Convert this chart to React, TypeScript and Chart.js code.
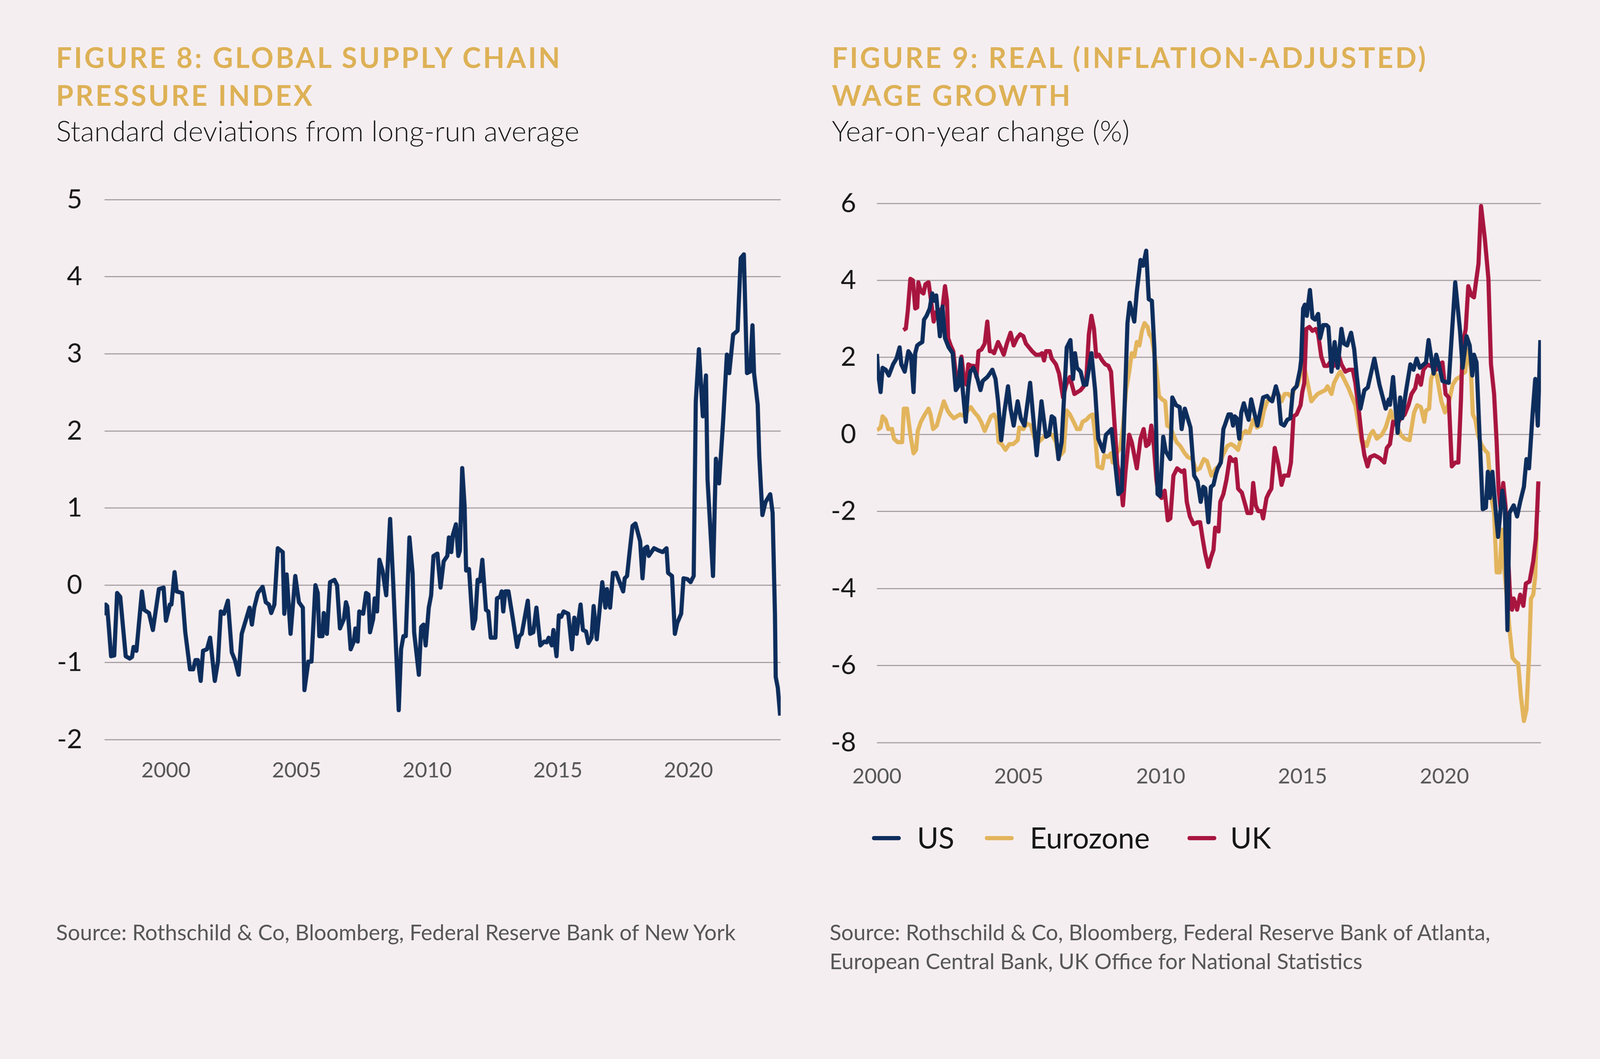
import React, { useEffect, useRef } from "react";
import { Chart, registerables } from "chart.js";

Chart.register(...registerables);

// ---------- DATA ----------
// Figure 8: Global Supply Chain Pressure Index, [decimal year, std devs]
const gscpiSeries: [number, number][] = [
  [1997.65, -0.39], [1997.69, -0.25], [1997.75, -0.27], [1997.9, -0.92], [1998.02, -0.91], [1998.13, -0.1],
  [1998.25, -0.15], [1998.46, -0.92], [1998.61, -0.95], [1998.7, -0.93], [1998.76, -0.8], [1998.87, -0.85],
  [1999.08, -0.08], [1999.17, -0.32], [1999.35, -0.36], [1999.5, -0.58], [1999.73, -0.05], [1999.91, -0.03],
  [2000.0, -0.46], [2000.15, -0.25], [2000.21, -0.25], [2000.33, 0.17], [2000.41, -0.08], [2000.62, -0.1],
  [2000.74, -0.61], [2000.92, -1.09], [2001.04, -1.09], [2001.13, -0.97], [2001.22, -0.97], [2001.33, -1.24],
  [2001.42, -0.85], [2001.57, -0.83], [2001.69, -0.68], [2001.87, -1.24], [2001.99, -0.99], [2002.1, -0.34],
  [2002.22, -0.37], [2002.37, -0.2], [2002.52, -0.87], [2002.64, -0.97], [2002.78, -1.16], [2002.9, -0.63],
  [2003.05, -0.46], [2003.2, -0.29], [2003.29, -0.51], [2003.38, -0.29], [2003.52, -0.1], [2003.7, -0.02],
  [2003.82, -0.22], [2003.94, -0.25], [2004.03, -0.36], [2004.15, -0.25], [2004.28, 0.48], [2004.47, 0.43],
  [2004.53, -0.37], [2004.62, 0.14], [2004.77, -0.63], [2004.95, 0.12], [2005.09, -0.22], [2005.24, -0.29],
  [2005.3, -1.36], [2005.45, -0.99], [2005.57, -0.99], [2005.72, 0.0], [2005.81, -0.1], [2005.87, -0.66],
  [2005.99, -0.66], [2006.04, -0.36], [2006.16, -0.63], [2006.28, 0.04], [2006.45, 0.07], [2006.55, 0.0],
  [2006.66, -0.56], [2006.81, -0.44], [2006.89, -0.22], [2006.95, -0.29], [2007.07, -0.83], [2007.19, -0.73],
  [2007.25, -0.56], [2007.34, -0.73], [2007.4, -0.34], [2007.55, -0.37], [2007.66, -0.1], [2007.75, -0.12],
  [2007.81, -0.61], [2007.93, -0.44], [2007.99, -0.17], [2008.08, -0.34], [2008.17, 0.33], [2008.29, 0.19],
  [2008.43, -0.13], [2008.58, 0.86], [2008.7, 0.02], [2008.91, -1.62], [2009.0, -0.83], [2009.09, -0.66],
  [2009.18, -0.66], [2009.32, 0.62], [2009.44, 0.16], [2009.5, -0.61], [2009.68, -1.16], [2009.77, -0.54],
  [2009.86, -0.51], [2009.94, -0.78], [2010.06, -0.29], [2010.15, -0.13], [2010.24, 0.38], [2010.39, 0.41],
  [2010.51, -0.03], [2010.63, 0.31], [2010.77, 0.38], [2010.83, 0.62], [2010.92, 0.43], [2010.98, 0.65],
  [2011.1, 0.79], [2011.19, 0.38], [2011.25, 0.45], [2011.34, 1.52], [2011.43, 1.03], [2011.49, 0.19],
  [2011.6, 0.21], [2011.75, -0.56], [2011.84, -0.44], [2011.93, 0.07], [2012.02, 0.05], [2012.11, 0.33],
  [2012.25, -0.32], [2012.34, -0.34], [2012.43, -0.68], [2012.61, -0.68], [2012.67, -0.17], [2012.79, -0.15],
  [2012.85, -0.08], [2012.91, -0.34], [2012.99, -0.08], [2013.11, -0.08], [2013.29, -0.46], [2013.44, -0.8],
  [2013.53, -0.66], [2013.62, -0.63], [2013.85, -0.2], [2013.94, -0.63], [2014.06, -0.61], [2014.18, -0.29],
  [2014.33, -0.78], [2014.48, -0.73], [2014.57, -0.74], [2014.65, -0.68], [2014.77, -0.78], [2014.83, -0.58],
  [2014.95, -0.92], [2015.04, -0.39], [2015.13, -0.41], [2015.22, -0.34], [2015.4, -0.37], [2015.54, -0.83],
  [2015.63, -0.42], [2015.72, -0.63], [2015.87, -0.25], [2015.96, -0.58], [2016.08, -0.6], [2016.17, -0.75],
  [2016.29, -0.68], [2016.37, -0.27], [2016.49, -0.7], [2016.7, 0.04], [2016.82, -0.29], [2016.88, -0.05],
  [2017.0, -0.29], [2017.11, 0.16], [2017.23, 0.16], [2017.5, -0.08], [2017.56, 0.09], [2017.65, 0.12],
  [2017.74, 0.41], [2017.86, 0.77], [2017.97, 0.8], [2018.15, 0.57], [2018.24, 0.09], [2018.33, 0.48],
  [2018.42, 0.5], [2018.48, 0.38], [2018.68, 0.48], [2018.86, 0.45], [2019.01, 0.43], [2019.16, 0.48],
  [2019.22, 0.16], [2019.37, 0.12], [2019.48, -0.63], [2019.57, -0.49], [2019.72, -0.37], [2019.81, 0.09],
  [2019.96, 0.08], [2020.08, 0.04], [2020.2, 0.12], [2020.28, 2.38], [2020.4, 3.06], [2020.55, 2.19],
  [2020.67, 2.72], [2020.73, 1.37], [2020.94, 0.12], [2021.05, 1.64], [2021.17, 1.32], [2021.32, 2.09],
  [2021.47, 2.99], [2021.56, 2.75], [2021.71, 3.25], [2021.88, 3.3], [2022.0, 4.24], [2022.12, 4.29],
  [2022.24, 2.75], [2022.36, 2.77], [2022.45, 3.37], [2022.51, 2.75], [2022.65, 2.34], [2022.71, 1.68],
  [2022.83, 0.91], [2022.95, 1.08], [2023.13, 1.18], [2023.22, 0.94], [2023.31, -0.37], [2023.34, -1.19],
  [2023.42, -1.33], [2023.51, -1.69],
];

// Figure 9: Real wage growth, [decimal year, % y/y]
const usSeries: [number, number][] = [
  [2000.0, 2.09], [2000.04, 1.63], [2000.13, 1.1], [2000.2, 1.73], [2000.31, 1.68], [2000.42, 1.53],
  [2000.57, 1.82], [2000.69, 1.97], [2000.8, 2.26], [2000.86, 1.82], [2000.98, 1.63], [2001.11, 2.16],
  [2001.2, 2.06], [2001.29, 1.1], [2001.35, 2.11], [2001.42, 2.31], [2001.51, 2.36], [2001.6, 2.4],
  [2001.66, 2.98], [2001.75, 3.08], [2001.86, 3.27], [2001.95, 3.66], [2002.02, 3.47], [2002.09, 3.61],
  [2002.22, 2.55], [2002.31, 3.32], [2002.4, 2.5], [2002.53, 2.26], [2002.67, 2.11], [2002.78, 1.15],
  [2002.87, 1.25], [2002.96, 1.97], [2003.02, 1.2], [2003.13, 0.33], [2003.22, 1.25], [2003.29, 1.63],
  [2003.4, 1.73], [2003.51, 1.53], [2003.65, 1.15], [2003.73, 1.39], [2003.89, 1.49], [2003.98, 1.58],
  [2004.07, 1.68], [2004.18, 1.44], [2004.27, 0.86], [2004.38, -0.15], [2004.49, 0.57], [2004.62, 1.25],
  [2004.71, 0.67], [2004.82, 0.23], [2004.96, 0.86], [2005.07, 0.42], [2005.2, 0.23], [2005.4, 1.34],
  [2005.63, -0.54], [2005.8, 0.86], [2005.96, -0.06], [2006.07, -0.01], [2006.16, 0.47], [2006.25, 0.42],
  [2006.4, -0.64], [2006.51, -0.2], [2006.69, 2.26], [2006.82, 2.45], [2006.91, 1.44], [2006.98, 2.11],
  [2007.05, 1.73], [2007.18, 1.63], [2007.29, 1.29], [2007.38, 1.29], [2007.56, 2.11], [2007.69, 1.15],
  [2007.8, -0.11], [2007.98, -0.44], [2008.07, -0.01], [2008.27, 0.14], [2008.4, -0.78], [2008.51, -1.55],
  [2008.63, -1.46], [2008.71, 0.28], [2008.83, 2.89], [2008.91, 3.42], [2009.07, 2.93], [2009.16, 3.71],
  [2009.29, 4.53], [2009.38, 4.38], [2009.49, 4.77], [2009.58, 3.51], [2009.69, 3.47], [2009.78, 2.21],
  [2009.89, -1.55], [2009.98, -1.6], [2010.09, -0.06], [2010.18, -0.44], [2010.34, -0.64], [2010.41, 0.96],
  [2010.54, 0.76], [2010.67, 0.71], [2010.74, 0.14], [2010.85, 0.67], [2011.05, 0.18], [2011.18, -1.07],
  [2011.3, -1.22], [2011.41, -1.75], [2011.5, -1.36], [2011.57, -1.4], [2011.68, -2.28], [2011.77, -1.36],
  [2011.86, -1.31], [2011.95, -1.02], [2012.01, -0.88], [2012.12, -0.73], [2012.21, 0.14], [2012.28, 0.28],
  [2012.39, 0.52], [2012.48, 0.52], [2012.55, 0.23], [2012.61, 0.47], [2012.68, 0.42], [2012.77, -0.11],
  [2012.84, 0.57], [2012.93, 0.81], [2013.04, 0.52], [2013.1, 0.38], [2013.19, 0.91], [2013.28, 0.62],
  [2013.41, 0.23], [2013.53, 0.67], [2013.61, 0.96], [2013.75, 1.0], [2013.84, 0.91], [2013.93, 0.86],
  [2014.06, 1.25], [2014.15, 1.0], [2014.24, 0.28], [2014.35, 0.23], [2014.46, 0.38], [2014.57, 0.42],
  [2014.66, 1.15], [2014.79, 1.25], [2014.91, 1.68], [2014.95, 1.92], [2015.02, 3.27], [2015.08, 3.37],
  [2015.15, 3.08], [2015.26, 3.75], [2015.35, 3.03], [2015.44, 2.98], [2015.55, 3.13], [2015.62, 2.5],
  [2015.73, 2.84], [2015.84, 2.84], [2015.91, 2.79], [2016.02, 1.63], [2016.13, 2.4], [2016.24, 1.73],
  [2016.37, 2.74], [2016.46, 2.36], [2016.57, 2.31], [2016.71, 2.64], [2016.82, 2.21], [2016.91, 1.53],
  [2017.04, 0.67], [2017.18, 1.15], [2017.3, 1.22], [2017.53, 1.97], [2017.71, 1.29], [2017.93, 0.67],
  [2018.04, 0.91], [2018.08, 0.77], [2018.19, 1.49], [2018.35, 0.04], [2018.44, 0.96], [2018.51, 0.42],
  [2018.64, 1.1], [2018.8, 1.82], [2018.91, 1.68], [2019.02, 1.97], [2019.13, 1.73], [2019.35, 1.87],
  [2019.44, 2.45], [2019.53, 2.02], [2019.62, 1.58], [2019.71, 2.07], [2019.8, 1.82], [2019.93, 1.39],
  [2020.15, 1.34], [2020.38, 3.95], [2020.55, 2.69], [2020.64, 1.73], [2020.78, 2.55], [2020.89, 2.31],
  [2020.98, 1.53], [2021.04, 2.07], [2021.13, 1.87], [2021.22, 0.28], [2021.35, -1.94], [2021.46, -1.9],
  [2021.53, -0.97], [2021.6, -1.65], [2021.69, -0.97], [2021.8, -1.94], [2021.89, -2.66], [2022.04, -1.46],
  [2022.13, -1.94], [2022.22, -5.08], [2022.29, -2.04], [2022.44, -1.84], [2022.56, -2.13], [2022.67, -1.75],
  [2022.8, -1.36], [2022.89, -0.64], [2022.98, -0.88], [2023.11, 0.57], [2023.2, 1.44], [2023.29, 0.23],
  [2023.38, 2.45],
];

const eurozoneSeries: [number, number][] = [
  [2000.0, 0.11], [2000.13, 0.18], [2000.2, 0.47], [2000.31, 0.38], [2000.4, 0.14], [2000.53, 0.14],
  [2000.6, -0.11], [2000.73, -0.2], [2000.89, -0.2], [2000.95, 0.67], [2001.06, 0.67], [2001.18, -0.01],
  [2001.29, -0.49], [2001.38, -0.4], [2001.44, 0.09], [2001.55, 0.33], [2001.69, 0.52], [2001.82, 0.67],
  [2001.89, 0.52], [2001.98, 0.14], [2002.11, 0.23], [2002.22, 0.52], [2002.36, 0.86], [2002.49, 0.62],
  [2002.58, 0.52], [2002.71, 0.42], [2002.82, 0.47], [2002.93, 0.52], [2003.09, 0.47], [2003.2, 0.62],
  [2003.31, 0.71], [2003.44, 0.57], [2003.56, 0.47], [2003.67, 0.33], [2003.8, 0.09], [2003.91, 0.28],
  [2004.02, 0.47], [2004.13, 0.52], [2004.22, 0.38], [2004.29, -0.2], [2004.4, -0.25], [2004.53, -0.4],
  [2004.67, -0.25], [2004.8, -0.25], [2004.96, -0.15], [2005.02, 0.18], [2005.16, 0.14], [2005.29, 0.28],
  [2005.43, 0.23], [2005.56, -0.11], [2005.69, -0.2], [2005.82, -0.11], [2005.96, -0.01], [2006.18, -0.01],
  [2006.31, -0.2], [2006.4, -0.59], [2006.58, -0.44], [2006.69, 0.62], [2006.8, 0.52], [2006.93, 0.33],
  [2007.05, 0.14], [2007.16, 0.14], [2007.25, 0.33], [2007.38, 0.38], [2007.49, 0.47], [2007.6, 0.52],
  [2007.69, -0.01], [2007.78, -0.83], [2007.94, -0.88], [2008.02, -0.54], [2008.14, -0.59], [2008.25, -0.49],
  [2008.31, -0.73], [2008.45, -0.49], [2008.58, -0.35], [2008.67, 0.18], [2008.78, 1.15], [2008.89, 1.63],
  [2008.98, 2.11], [2009.07, 2.02], [2009.16, 2.4], [2009.25, 2.31], [2009.34, 2.69], [2009.43, 2.89],
  [2009.54, 2.79], [2009.6, 2.6], [2009.69, 2.5], [2009.83, 1.82], [2009.94, 1.0], [2010.05, 0.91],
  [2010.16, 0.86], [2010.23, 0.23], [2010.34, 0.18], [2010.45, -0.01], [2010.56, -0.2], [2010.69, -0.3],
  [2010.85, -0.49], [2010.96, -0.59], [2011.12, -0.64], [2011.25, -0.93], [2011.38, -0.88], [2011.52, -0.64],
  [2011.63, -0.69], [2011.79, -1.07], [2011.95, -0.88], [2012.06, -0.83], [2012.19, -0.54], [2012.35, -0.3],
  [2012.48, -0.25], [2012.59, -0.3], [2012.73, -0.4], [2012.86, -0.01], [2012.99, 0.09], [2013.12, 0.04],
  [2013.26, 0.38], [2013.39, 0.18], [2013.53, 0.23], [2013.64, 0.62], [2013.75, 0.86], [2013.88, 0.91],
  [2014.02, 1.05], [2014.15, 1.05], [2014.26, 0.86], [2014.37, 1.05], [2014.5, 1.05], [2014.62, 0.96],
  [2014.71, 1.2], [2014.84, 1.29], [2014.95, 1.63], [2015.04, 1.82], [2015.15, 1.44], [2015.31, 0.86],
  [2015.42, 0.96], [2015.53, 1.05], [2015.66, 1.1], [2015.8, 1.15], [2015.88, 1.25], [2016.02, 1.05],
  [2016.11, 1.34], [2016.24, 1.53], [2016.33, 1.63], [2016.46, 1.44], [2016.62, 1.2], [2016.73, 1.0],
  [2016.86, 0.76], [2016.98, 0.23], [2017.09, -0.2], [2017.18, -0.2], [2017.26, -0.3], [2017.38, -0.01],
  [2017.48, 0.09], [2017.62, -0.11], [2017.79, -0.01], [2017.93, 0.18], [2018.11, 0.62], [2018.19, 0.38],
  [2018.33, 0.23], [2018.46, -0.01], [2018.6, -0.11], [2018.77, -0.15], [2018.93, 0.57], [2019.04, 0.76],
  [2019.17, 0.71], [2019.29, 0.33], [2019.35, 0.62], [2019.46, 0.67], [2019.53, 1.44], [2019.62, 1.63],
  [2019.73, 1.53], [2019.89, 0.86], [2020.02, 0.57], [2020.15, 0.81], [2020.29, 1.29], [2020.42, 1.44],
  [2020.55, 1.49], [2020.64, 1.58], [2020.73, 1.62], [2020.82, 2.21], [2020.93, 1.73], [2021.0, 0.52],
  [2021.09, 0.38], [2021.18, -0.01], [2021.29, -0.25], [2021.42, -0.4], [2021.53, -0.49], [2021.67, -1.7],
  [2021.75, -2.04], [2021.84, -3.58], [2021.95, -3.58], [2022.02, -2.47], [2022.11, -3.48], [2022.2, -4.26],
  [2022.29, -5.03], [2022.4, -5.8], [2022.51, -5.9], [2022.6, -5.95], [2022.69, -6.77], [2022.8, -7.44],
  [2022.89, -7.15], [2022.98, -5.8], [2023.05, -4.26], [2023.13, -4.16], [2023.2, -3.68], [2023.25, -2.52],
];

const ukSeries: [number, number][] = [
  [2000.93, 2.71], [2001.02, 2.75], [2001.09, 3.22], [2001.18, 4.04], [2001.27, 4.0], [2001.35, 3.27],
  [2001.42, 3.3], [2001.46, 3.95], [2001.55, 3.71], [2001.64, 3.66], [2001.71, 3.9], [2001.82, 3.95],
  [2001.91, 3.47], [2002.0, 2.93], [2002.09, 3.18], [2002.2, 3.22], [2002.31, 3.27], [2002.4, 3.85],
  [2002.47, 3.47], [2002.51, 2.5], [2002.6, 2.31], [2002.69, 2.16], [2002.8, 1.44], [2002.91, 1.44],
  [2002.98, 2.02], [2003.07, 1.44], [2003.16, 1.29], [2003.22, 1.82], [2003.33, 1.78], [2003.42, 1.78],
  [2003.51, 1.49], [2003.58, 2.16], [2003.69, 2.21], [2003.8, 2.36], [2003.89, 2.93], [2003.98, 2.16],
  [2004.05, 2.16], [2004.13, 2.11], [2004.27, 2.4], [2004.36, 2.26], [2004.47, 2.07], [2004.58, 2.36],
  [2004.71, 2.64], [2004.82, 2.31], [2004.94, 2.5], [2005.05, 2.6], [2005.16, 2.55], [2005.25, 2.36],
  [2005.36, 2.26], [2005.47, 2.16], [2005.6, 2.07], [2005.73, 2.07], [2005.82, 2.11], [2005.89, 1.92],
  [2005.96, 2.16], [2006.09, 2.16], [2006.16, 1.97], [2006.31, 1.82], [2006.42, 1.58], [2006.56, 0.96],
  [2006.67, 1.29], [2006.8, 1.49], [2006.96, 1.05], [2007.07, 1.1], [2007.18, 1.15], [2007.29, 1.25],
  [2007.38, 1.44], [2007.47, 2.6], [2007.56, 3.08], [2007.65, 2.74], [2007.73, 2.02], [2007.82, 2.07],
  [2007.94, 1.92], [2008.05, 1.82], [2008.16, 1.78], [2008.25, 1.63], [2008.36, 0.42], [2008.47, -0.78],
  [2008.58, -1.17], [2008.67, -1.84], [2008.76, -0.97], [2008.89, -0.01], [2008.98, -0.2], [2009.16, -0.88],
  [2009.29, -0.11], [2009.4, 0.14], [2009.49, -0.3], [2009.58, -0.25], [2009.67, 0.23], [2009.76, -0.3],
  [2009.85, -1.17], [2009.92, -1.55], [2010.03, -1.65], [2010.14, -1.46], [2010.25, -2.23], [2010.34, -2.18],
  [2010.45, -1.07], [2010.58, -0.88], [2010.74, -0.97], [2010.83, -0.93], [2010.92, -1.75], [2011.03, -2.13],
  [2011.16, -2.33], [2011.3, -2.28], [2011.39, -2.28], [2011.48, -2.71], [2011.57, -3.1], [2011.68, -3.44],
  [2011.77, -3.2], [2011.86, -3.0], [2011.92, -2.42], [2012.04, -2.52], [2012.1, -1.75], [2012.21, -1.55],
  [2012.32, -1.17], [2012.44, -0.59], [2012.55, -0.69], [2012.64, -0.64], [2012.73, -1.41], [2012.86, -1.51],
  [2012.97, -1.8], [2013.06, -2.04], [2013.19, -2.04], [2013.26, -1.26], [2013.35, -1.84], [2013.44, -1.99],
  [2013.55, -1.99], [2013.61, -2.18], [2013.73, -1.65], [2013.82, -1.51], [2013.9, -1.41], [2014.02, -0.35],
  [2014.15, -0.78], [2014.26, -1.31], [2014.35, -1.07], [2014.5, -1.07], [2014.59, -0.73], [2014.68, 0.47],
  [2014.79, 0.52], [2014.93, 0.76], [2014.99, 1.1], [2015.06, 1.34], [2015.13, 2.74], [2015.24, 2.79],
  [2015.35, 2.69], [2015.46, 2.74], [2015.55, 2.6], [2015.66, 2.02], [2015.77, 1.78], [2015.88, 1.78],
  [2015.97, 1.87], [2016.11, 1.78], [2016.2, 1.97], [2016.29, 2.02], [2016.37, 1.82], [2016.51, 1.63],
  [2016.64, 1.68], [2016.77, 1.68], [2016.86, 1.34], [2016.99, 0.57], [2017.09, -0.11], [2017.18, -0.54],
  [2017.29, -0.83], [2017.38, -0.59], [2017.53, -0.54], [2017.71, -0.61], [2017.88, -0.73], [2017.97, -0.35],
  [2018.08, -0.25], [2018.19, 0.33], [2018.33, 0.23], [2018.42, 0.38], [2018.6, 0.52], [2018.73, 0.76],
  [2018.84, 1.05], [2018.97, 1.2], [2019.06, 1.53], [2019.17, 1.29], [2019.26, 1.68], [2019.4, 1.82],
  [2019.49, 1.78], [2019.58, 1.82], [2019.71, 1.68], [2019.84, 1.82], [2019.93, 1.87], [2020.04, 1.05],
  [2020.15, 0.96], [2020.26, -0.83], [2020.38, -0.73], [2020.49, -0.73], [2020.58, 0.86], [2020.64, 2.31],
  [2020.75, 2.74], [2020.84, 3.85], [2020.95, 3.61], [2021.04, 3.56], [2021.11, 3.95], [2021.2, 4.43],
  [2021.29, 5.93], [2021.42, 5.11], [2021.55, 4.04], [2021.64, 1.82], [2021.75, 1.05], [2021.84, -0.2],
  [2021.91, -1.46], [2021.98, -1.94], [2022.07, -1.26], [2022.15, -1.84], [2022.24, -3.1], [2022.31, -4.16],
  [2022.38, -4.55], [2022.44, -4.26], [2022.56, -4.55], [2022.67, -4.16], [2022.78, -4.45], [2022.87, -3.87],
  [2023.0, -3.82], [2023.13, -3.29], [2023.22, -2.71], [2023.27, -1.94], [2023.31, -1.22],
];

const leftYearTicks = [2000, 2005, 2010, 2015, 2020];
const rightYearTicks = [2000, 2005, 2010, 2015, 2020];
const seriesNames = ["US", "Eurozone", "UK"];

// ---------- STYLE ----------
const DESIGN_W = 4224;
const DESIGN_H = 2712;
const FONT = "Lato, 'Noto Sans', sans-serif";
const BG = "#F5EEF0";
const GOLD_TITLE = "#DDB156";
const NAVY = "#0D2D5C";
const GOLD = "#E2B45C";
const CRIMSON = "#A8153F";
const GRID = "#A6A0A3";
const seriesColors = [NAVY, GOLD, CRIMSON];

const toPoints = (s: [number, number][]) => s.map(([x, y]) => ({ x, y }));

function yScale(min: number, max: number, step: number, pad: number, width: number) {
  return {
    type: "linear" as const,
    min,
    max,
    ticks: {
      stepSize: step,
      padding: pad,
      color: "#161616",
      font: { family: FONT, size: 70, weight: "normal" as const },
      callback: (v: any) => String(v),
    },
    grid: { color: GRID, lineWidth: 3, drawTicks: false },
    border: { display: false },
    afterFit: (s: any) => {
      s.width = width;
    },
  };
}

function xScale(min: number, max: number, ticks: number[], pad: number) {
  return {
    type: "linear" as const,
    min,
    max,
    afterBuildTicks: (s: any) => {
      s.ticks = ticks.map((v) => ({ value: v }));
    },
    ticks: {
      padding: pad,
      color: "#555555",
      autoSkip: false,
      maxRotation: 0,
      font: { family: FONT, size: 56, weight: "normal" as const },
      callback: (v: any) => String(v),
    },
    grid: { display: false, drawTicks: false },
    border: { display: false },
    afterFit: (s: any) => {
      s.height = 130;
    },
  };
}

function lineDs(label: string, data: any[], color: string) {
  return {
    label,
    data,
    borderColor: color,
    backgroundColor: color,
    borderWidth: 11,
    pointRadius: 0,
    pointHoverRadius: 0,
    tension: 0,
    fill: false,
    borderJoinStyle: "round" as const,
    borderCapStyle: "butt" as const,
  };
}

function ChartCanvas(props: { left: number; top: number; width: number; height: number; make: () => any }) {
  const ref = useRef<HTMLCanvasElement | null>(null);
  useEffect(() => {
    if (!ref.current) return;
    const chart = new Chart(ref.current, props.make());
    return () => chart.destroy();
  }, []);
  return (
    <canvas
      ref={ref}
      width={props.width}
      height={props.height}
      style={{
        position: "absolute",
        left: props.left,
        top: props.top,
        width: props.width,
        height: props.height,
      }}
    />
  );
}

const baseOptions = (padTop: number, padRight: number) => ({
  responsive: false,
  maintainAspectRatio: false,
  animation: false as const,
  events: [] as any[],
  layout: { padding: { top: padTop, right: padRight, left: 0, bottom: 0 } },
  plugins: { legend: { display: false }, tooltip: { enabled: false }, title: { display: false } },
});

const makeLeft = () => ({
  type: "line",
  data: { datasets: [lineDs("GSCPI", toPoints(gscpiSeries), NAVY)] },
  options: {
    ...baseOptions(120, 39),
    scales: {
      x: xScale(1997.65, 2023.53, leftYearTicks, 48),
      y: yScale(-2, 5, 1, 59, 176),
    },
  },
});

const makeRight = () => ({
  type: "line",
  data: {
    datasets: [
      lineDs(seriesNames[0], toPoints(usSeries), seriesColors[0]),
      lineDs(seriesNames[2], toPoints(ukSeries), seriesColors[2]),
      lineDs(seriesNames[1], toPoints(eurozoneSeries), seriesColors[1]),
    ],
  },
  options: {
    ...baseOptions(120, 42),
    scales: {
      x: xScale(2000, 2023.4, rightYearTicks, 56),
      y: yScale(-8, 6, 2, 55, 165),
    },
  },
});

const titleStyle = (left: number): React.CSSProperties => ({
  position: "absolute",
  left,
  top: 101,
  fontFamily: FONT,
  fontWeight: 700,
  fontSize: 74,
  lineHeight: "100px",
  letterSpacing: 5.3,
  color: GOLD_TITLE,
  whiteSpace: "nowrap",
});

const subStyle = (left: number): React.CSSProperties => ({
  position: "absolute",
  left,
  top: 299,
  fontFamily: FONT,
  fontWeight: 300,
  fontSize: 75.5,
  lineHeight: "90px",
  color: "#1B1B1B",
  whiteSpace: "nowrap",
});

const srcStyle = (left: number): React.CSSProperties => ({
  position: "absolute",
  left,
  top: 2422,
  fontFamily: FONT,
  fontWeight: 400,
  fontSize: 57.3,
  lineHeight: "77px",
  color: "#575757",
  whiteSpace: "nowrap",
});

const legendPos = [
  { sw: 2302, tx: 2421 },
  { sw: 2600, tx: 2719 },
  { sw: 3135, tx: 3248 },
];

export default function App() {
  const vw = typeof window !== "undefined" && window.innerWidth ? window.innerWidth : DESIGN_W;
  const scale = vw / DESIGN_W;

  useEffect(() => {
    document.documentElement.style.background = BG;
    document.body.style.background = BG;
    document.body.style.margin = "0";
    document.body.style.overflow = "hidden";
  }, []);

  return (
    <div
      style={{
        position: "absolute",
        left: 0,
        top: 0,
        width: DESIGN_W * scale,
        height: DESIGN_H * scale,
        background: BG,
        overflow: "hidden",
      }}
    >
      <div
        style={{
          position: "absolute",
          left: 0,
          top: 0,
          width: DESIGN_W,
          height: DESIGN_H,
          transform: `scale(${scale})`,
          transformOrigin: "0 0",
          background: BG,
          fontFamily: FONT,
        }}
      >
        <div style={titleStyle(148)}>
          FIGURE 8: GLOBAL SUPPLY CHAIN
          <br />
          PRESSURE INDEX
        </div>
        <div style={subStyle(148)}>Standard deviations from long-run average</div>

        <div style={titleStyle(2196)}>
          FIGURE 9: REAL (INFLATION-ADJUSTED)
          <br />
          WAGE GROWTH
        </div>
        <div style={subStyle(2196)}>Year-on-year change (%)</div>

        <ChartCanvas left={100} top={407} width={2000} height={1676} make={makeLeft} />
        <ChartCanvas left={2150} top={417} width={1960} height={1674} make={makeRight} />

        {seriesNames.map((name, i) => (
          <React.Fragment key={name}>
            <div
              style={{
                position: "absolute",
                left: legendPos[i].sw,
                top: 2208,
                width: 76,
                height: 11,
                borderRadius: 5,
                background: seriesColors[i],
              }}
            />
            <div
              style={{
                position: "absolute",
                left: legendPos[i].tx,
                top: 2161,
                fontFamily: FONT,
                fontSize: 77,
                lineHeight: "100px",
                color: "#161616",
                whiteSpace: "nowrap",
              }}
            >
              {name}
            </div>
          </React.Fragment>
        ))}

        <div style={srcStyle(148)}>Source: Rothschild &amp; Co, Bloomberg, Federal Reserve Bank of New York</div>
        <div style={srcStyle(2190)}>
          Source: Rothschild &amp; Co, Bloomberg, Federal Reserve Bank of Atlanta,
          <br />
          European Central Bank, UK Office for National Statistics
        </div>
      </div>
    </div>
  );
}
